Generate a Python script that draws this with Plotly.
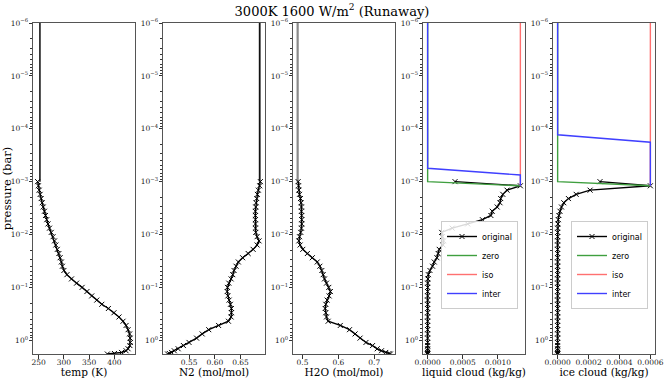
import plotly.graph_objects as go

# ---------------- data ----------------
pressure = [1.00e-3, 1.20e-3, 1.45e-3, 1.74e-3, 2.09e-3, 2.51e-3, 3.02e-3, 3.63e-3, 4.37e-3, 5.25e-3,
            6.31e-3, 7.59e-3, 9.12e-3, 1.10e-2, 1.32e-2, 1.58e-2, 1.91e-2, 2.29e-2, 2.75e-2, 3.31e-2,
            3.98e-2, 4.79e-2, 5.75e-2, 6.92e-2, 8.32e-2, 0.100, 0.120, 0.145, 0.174, 0.209,
            0.251, 0.302, 0.363, 0.437, 0.525, 0.631, 0.759, 0.912, 1.10, 1.26,
            1.45, 1.58, 1.70, 1.78, 1.82]

temp = [248, 249.5, 251, 253, 255, 257, 259, 261.5, 263.5, 266,
        268.5, 271.5, 275, 278.5, 281.5, 284, 287, 290, 292.5, 295,
        297, 300, 306, 315, 325, 336, 345.5, 355, 365, 375,
        388, 399, 409, 417, 423, 427, 430, 431, 431.5, 430.5,
        427, 423, 414, 400, 386]

n2 = [0.6887, 0.6874, 0.6848, 0.6829, 0.6816, 0.6803, 0.6797, 0.6790, 0.6790, 0.6790,
      0.6790, 0.6790, 0.6797, 0.6823, 0.6861, 0.6823, 0.6746, 0.6650, 0.6541, 0.6458,
      0.6413, 0.6374, 0.6349, 0.6317, 0.6272, 0.6246, 0.6240, 0.6253, 0.6278, 0.6304,
      0.6323, 0.6323, 0.6317, 0.6265, 0.6073, 0.5881, 0.5753, 0.5644, 0.5497, 0.5388,
      0.5285, 0.5209, 0.5157, 0.5112, 0.5080]

h2o = [0.4879, 0.4889, 0.4898, 0.4916, 0.4944, 0.4962, 0.4971, 0.4971, 0.4980, 0.4980,
       0.4980, 0.4971, 0.4953, 0.4916, 0.4898, 0.4934, 0.5008, 0.5136, 0.5274, 0.5412,
       0.5485, 0.5540, 0.5577, 0.5614, 0.5669, 0.5733, 0.5779, 0.5742, 0.5687, 0.5650,
       0.5632, 0.5650, 0.5669, 0.5715, 0.6054, 0.6311, 0.6467, 0.6605, 0.6770, 0.6954,
       0.7083, 0.7202, 0.7321, 0.7413, 0.7450]

liquid = [0.00039, 0.00132, 0.00113, 0.00107, 0.00104, 0.00103, 0.00099, 0.00092, 0.00090, 0.00078,
          0.00057, 0.00035, 0.00020, 0.00021, 0.000226, 0.00022, 0.000165, 0.00015, 0.000132, 0.000094,
          0.00007, 0.000033, 0.00001, 0.000004, 0, 0, 0, 0, 0, 0,
          0, 0, 0, 0, 0, 0, 0, 0, 0, 0,
          0, 0, 0, 0, 0]

ice = [0.000274, 0.0006, 0.00021, 0.00012, 0.00007, 0.00004, 0.000025, 0.000015, 0.000008, 0.000004,
       0.000002, 0, 0, 0, 0, 0, 0, 0, 0, 0,
       0, 0, 0, 0, 0, 0, 0, 0, 0, 0,
       0, 0, 0, 0, 0, 0, 0, 0, 0, 0,
       0, 0, 0, 0, 0]

# upper-atmosphere extensions
ext_p = [1e-6, 1e-3]
temp_ext = [252.5, 252.5]
n2_ext = [0.6874, 0.6874]
h2o_ext = [0.4865, 0.4865]

liq_zero_p, liq_zero = [1e-6, 1e-3, 1.20e-3], [0, 0, 0.00132]
liq_iso_p, liq_iso = [1e-6, 1.20e-3], [0.00132, 0.00132]
liq_inter_p, liq_inter = [1e-6, 5.6e-4, 7.5e-4, 1.20e-3], [0, 0, 0.00132, 0.00132]

ice_zero_p, ice_zero = [1e-6, 1e-3, 1.20e-3], [0, 0, 0.0006]
ice_iso_p, ice_iso = [1e-6, 1.20e-3], [0.0006, 0.0006]
ice_inter_p, ice_inter = [1e-6, 1.3e-4, 1.8e-4, 1.20e-3], [0, 0, 0.0006, 0.0006]

x_titles = ["temp (K)", "N2 (mol/mol)", "H2O (mol/mol)", "liquid cloud (kg/kg)", "ice cloud (kg/kg)"]
x_ticks = [[250, 300, 350, 400], [0.55, 0.60, 0.65], [0.5, 0.6, 0.7],
           [0.0, 0.0005, 0.0010], [0.0, 0.0002, 0.0004, 0.0006]]
x_tickfmt = ["d", ".2f", ".1f", ".4f", ".4f"]
y_tickvals = [1e-6, 1e-5, 1e-4, 1e-3, 1e-2, 1e-1, 1e0]
y_ticktext = ["10<sup>−6</sup>", "10<sup>−5</sup>", "10<sup>−4</sup>", "10<sup>−3</sup>",
              "10<sup>−2</sup>", "10<sup>−1</sup>", "10<sup>0</sup>"]

# ---------------- styling ----------------
W, H = 664, 378
ML, MR, MT, MB = 33, 9, 23, 24
PW = W - ML - MR
PANEL_W, PITCH = 102, 130
SERIF = "DejaVu Serif"
C_ZERO, C_ISO, C_INTER = "#3f9f3f", "#ff7070", "#4040ff"

fig = go.Figure()

def ax_names(i):
    return ("x" if i == 0 else f"x{i+1}", "y" if i == 0 else f"y{i+1}")

def original(i, vals, legend=None):
    xa, ya = ax_names(i)
    fig.add_trace(go.Scatter(
        x=vals, y=pressure, xaxis=xa, yaxis=ya, mode="lines+markers", name="original",
        line=dict(color="black", width=1.4),
        marker=dict(symbol="x-thin", size=5, line=dict(color="black", width=1)),
        showlegend=legend is not None, legend=legend or "legend"))

def ext(i, p, vals, color, name=None, legend=None, width=1.4):
    xa, ya = ax_names(i)
    fig.add_trace(go.Scatter(
        x=vals, y=p, xaxis=xa, yaxis=ya, mode="lines", name=name or "ext",
        line=dict(color=color, width=width),
        showlegend=legend is not None, legend=legend or "legend"))

ext(0, ext_p, temp_ext, "#333333", width=1.8)
original(0, temp)
ext(1, ext_p, n2_ext, "#111111", width=1.8)
original(1, n2)
ext(2, ext_p, h2o_ext, "#8a8a8a", width=2.2)
original(2, h2o)

original(3, liquid, legend="legend")
ext(3, liq_zero_p, liq_zero, C_ZERO, "zero", "legend")
ext(3, liq_iso_p, liq_iso, C_ISO, "iso", "legend")
ext(3, liq_inter_p, liq_inter, C_INTER, "inter", "legend")

original(4, ice, legend="legend2")
ext(4, ice_zero_p, ice_zero, C_ZERO, "zero", "legend2")
ext(4, ice_iso_p, ice_iso, C_ISO, "iso", "legend2")
ext(4, ice_inter_p, ice_inter, C_INTER, "inter", "legend2")

panel_vals = [temp + temp_ext, n2 + n2_ext, h2o + h2o_ext,
              liquid + liq_zero + liq_iso + liq_inter, ice + ice_zero + ice_iso + ice_inter]

minor_vals = [m * 10.0 ** e for e in range(-6, 1) for m in range(2, 10)]

layout = {}
for i in range(5):
    lo, hi = min(panel_vals[i]), max(panel_vals[i])
    pad = 0.05 * (hi - lo)
    x0 = (PITCH * i) / PW
    x1 = (PITCH * i + PANEL_W) / PW
    xa, ya = ax_names(i)
    key_x = "xaxis" if i == 0 else f"xaxis{i+1}"
    key_y = "yaxis" if i == 0 else f"yaxis{i+1}"
    layout[key_x] = dict(
        domain=[x0, min(x1, 1.0)], anchor=ya, range=[lo - pad, hi + pad],
        tickmode="array", tickvals=x_ticks[i], tickformat=x_tickfmt[i],
        ticks="outside", ticklen=3.5, tickwidth=0.8, tickcolor="#333",
        ticklabelstandoff=-3,
        showline=True, mirror=True, linecolor="#555", linewidth=1,
        showgrid=False, zeroline=False,
        tickfont=dict(family=SERIF, size=7.5, color="#222"),
        title=dict(text=x_titles[i], font=dict(family=SERIF, size=10.5, color="black"), standoff=0))
    layout[key_y] = dict(
        domain=[0, 1], anchor=xa, type="log", range=[0.26, -6],
        tickmode="array", tickvals=y_tickvals, ticktext=y_ticktext,
        ticks="outside", ticklen=3.5, tickwidth=0.8, tickcolor="#333",
        ticklabelstandoff=-1,
        minor=dict(tickmode="array", tickvals=minor_vals, ticks="outside", ticklen=2,
                   tickwidth=0.6, tickcolor="#333", showgrid=False),
        showline=True, mirror=True, linecolor="#555", linewidth=1,
        showgrid=False, zeroline=False,
        tickfont=dict(family=SERIF, size=7.5, color="#222"))

layout["yaxis"]["title"] = dict(text="pressure (bar)", font=dict(family=SERIF, size=11.5, color="black"),
                                standoff=1)

legend_style = dict(font=dict(family="DejaVu Sans", size=8, color="black"),
                    bgcolor="rgba(255,255,255,0.85)", bordercolor="#cccccc", borderwidth=1,
                    xanchor="right", yanchor="middle", itemwidth=30, tracegroupgap=0)
layout["legend"] = dict(x=(518 - ML) / PW, y=1 - (265 - MT) / (H - MT - MB), **legend_style)
layout["legend2"] = dict(x=(648 - ML) / PW, y=1 - (265 - MT) / (H - MT - MB), **legend_style)

fig.update_layout(
    width=W, height=H,
    margin=dict(l=ML, r=MR, t=MT, b=MB, autoexpand=False),
    paper_bgcolor="white", plot_bgcolor="white",
    title=dict(text="3000K 1600 W/m<sup>2</sup> (Runaway)", x=0.5, xref="container",
               y=1 - 11 / H, yref="container", yanchor="middle", xanchor="center",
               font=dict(family=SERIF, size=13, color="black")),
    **layout)

fig.write_html("out.html", config={"displayModeBar": False},
               post_script="document.body.style.margin='0';document.body.style.padding='0';"
                           "document.body.style.overflow='hidden';")
